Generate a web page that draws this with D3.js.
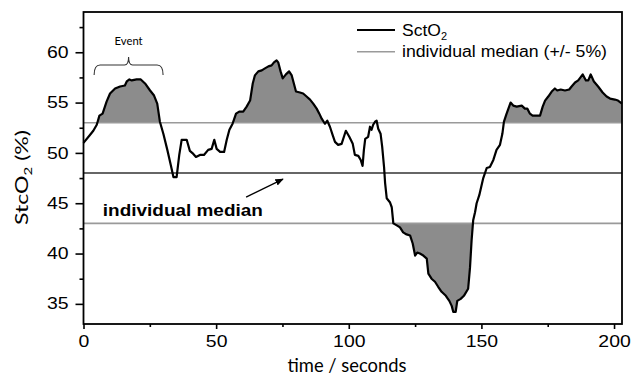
<!DOCTYPE html>
<html lang="en">
<head>
  <meta charset="UTF-8">
  <title>StcO2 over time</title>
  <script src="https://cdnjs.cloudflare.com/ajax/libs/d3/7.8.5/d3.min.js"></script>
  <style>
    html, body { margin: 0; padding: 0; background: #fff; }
    #chart { width: 641px; height: 375px; }
    .tick-label { font-family: "Liberation Sans", Arial, sans-serif; font-size: 16px; fill: #000; }
    .title-label { font-family: Lato, "Open Sans", sans-serif; fill: #000; }
  </style>
</head>
<body>
  <div id="chart"></div>
  <script>
    // time (s) and StcO2 (%)
    const timeSec = [0, 2.5, 3.7, 5, 6, 7.2, 8.7, 10, 11.9, 13.8, 15.6, 16.3, 17.3, 18.2, 20, 21.6, 23.2, 25.1, 26.6, 27.8,
      28.8, 30.1, 31.6, 32.9, 33.9, 35.1, 36.1, 37, 38.9, 40.1, 41.4, 42.4, 43.9, 45.4, 47, 48.3, 49.3, 50.2, 51.5, 53,
      54, 55, 56.2, 57.5, 58.7, 60.2, 61.5, 62.8, 63.8, 64.6, 65.9, 67.2, 68.4, 69.7, 70.9, 71.8, 72.8, 73.4, 74.3, 75.1,
      76.3, 77.5, 78.5, 79.3, 80.1, 81.6, 82.8, 84.1, 85.4, 86.6, 87.9, 88.9, 89.8, 91, 91.9, 92.9, 93.9, 94.8, 96, 97.3,
      98.9, 100.2, 101.5, 102.3, 103.6, 104.5, 105.2, 105.7, 106.2, 107.3, 108, 108.6, 109.2, 109.9, 110.5, 111.1, 112, 112.6, 113.3, 113.7,
      114.3, 115.5, 116.2, 116.8, 118.1, 119.3, 120.5, 121.8, 123.1, 124.1, 125, 125.8, 126.8, 128.1, 129.4, 130, 131.2, 132.5, 133.7, 135,
      136.6, 137.9, 138.8, 139.4, 140.3, 140.9, 142.2, 143.4, 145, 145.7, 146.3, 146.9, 147.6, 148.2, 149.2, 150.7, 152, 153.2, 154.5, 155.7,
      157, 157.9, 158.5, 159.5, 161, 162, 163.3, 165.2, 166.4, 167.3, 168.3, 169.3, 172.1, 173.1, 174, 175.2, 176.5, 177.7, 178.6, 179.9,
      181.5, 183.1, 184, 185.3, 186.5, 188.2, 189.4, 190.3, 191.2, 192.4, 194, 195.7, 197.2, 198.5, 200.3, 201.5, 203];
    const stco2 = [51.0, 51.8, 52.2, 52.8, 53.7, 53.9, 55.1, 55.9, 56.4, 56.6, 56.7, 57.1, 57.3, 57.2, 57.3, 57.3, 56.9, 56.2, 55.7, 54.9,
      53.1, 51.9, 50.3, 48.8, 47.6, 47.6, 49.8, 51.3, 51.3, 50.2, 49.9, 49.6, 49.8, 49.8, 50.3, 50.4, 51.3, 50.4, 50.1, 50.1,
      51.3, 52.3, 52.9, 53.9, 54.1, 54.1, 54.6, 55.2, 56.9, 57.7, 58.1, 58.2, 58.4, 58.6, 58.7, 59.0, 59.2, 59.0, 58.1, 57.4,
      57.8, 58.1, 57.7, 56.9, 56.1, 56.0, 55.9, 55.6, 55.3, 54.9, 54.4, 53.9, 53.4, 52.9, 53.2, 52.6, 51.8, 51.1, 50.8, 50.9,
      52.2, 51.6, 50.9, 49.8, 49.7, 49.3, 48.7, 50.3, 51.4, 51.6, 52.6, 52.3, 52.8, 53.1, 53.2, 52.4, 51.9, 50.6, 48.6, 47.0,
      45.5, 45.1, 44.6, 43.0, 42.8, 42.6, 42.1, 41.9, 41.8, 41.0, 39.8, 40.1, 40.0, 39.8, 39.5, 38.0, 37.5, 37.2, 36.7, 36.2,
      35.8, 35.3, 34.8, 34.2, 34.2, 35.3, 35.5, 35.8, 36.5, 38.6, 41.3, 43.3, 44.1, 45.0, 45.8, 47.5, 48.5, 48.6, 49.3, 50.3,
      50.8, 51.9, 53.1, 53.9, 55.0, 54.7, 54.6, 54.7, 54.4, 54.4, 53.9, 53.7, 53.7, 54.6, 55.2, 55.6, 56.1, 56.4, 56.2, 56.3,
      56.2, 56.3, 56.6, 57.0, 57.2, 57.8, 57.2, 57.2, 57.8, 57.1, 56.6, 56.0, 55.6, 55.4, 55.3, 55.2, 54.9];

    const medianValue = 48;
    const upperBand = 53;
    const lowerBand = 43;

    const xMajorTicks = [0, 50, 100, 150, 200];
    const xMinorTicks = [25, 75, 125, 175];
    const yMajorTicks = [35, 40, 45, 50, 55, 60];
    const yMinorTicks = [37.5, 42.5, 47.5, 52.5, 57.5, 62.5];

    const eventRange = [4, 30];

    const data = timeSec.map((t, i) => ({ t, v: stco2[i] }));

    const W = 641, H = 375;
    const plot = { left: 83.5, top: 12, right: 622, bottom: 324 };

    const svg = d3.select("#chart").append("svg")
      .attr("width", W).attr("height", H);

    const x = d3.scaleLinear().domain([0, 203]).range([plot.left, plot.right]);
    const y = d3.scaleLinear().domain([33, 64]).range([plot.bottom, plot.top]);

    const defs = svg.append("defs");
    defs.append("clipPath").attr("id", "clip-above")
      .append("rect")
      .attr("x", plot.left).attr("y", plot.top)
      .attr("width", plot.right - plot.left).attr("height", y(upperBand) - plot.top);
    defs.append("clipPath").attr("id", "clip-below")
      .append("rect")
      .attr("x", plot.left).attr("y", y(lowerBand))
      .attr("width", plot.right - plot.left).attr("height", plot.bottom - y(lowerBand));
    defs.append("marker").attr("id", "arrowhead")
      .attr("viewBox", "0 0 10 10").attr("refX", 9).attr("refY", 5)
      .attr("markerWidth", 6).attr("markerHeight", 6).attr("orient", "auto")
      .append("path").attr("d", "M0,1 L10,5 L0,9 Z").attr("fill", "#000");

    // shaded areas outside the +/- 5% band
    const areaAbove = d3.area().x(d => x(d.t)).y0(y(upperBand)).y1(d => y(d.v));
    const areaBelow = d3.area().x(d => x(d.t)).y0(y(lowerBand)).y1(d => y(d.v));
    svg.append("path").datum(data).attr("d", areaAbove)
      .attr("fill", "#8c8c8c").attr("clip-path", "url(#clip-above)");
    svg.append("path").datum(data).attr("d", areaBelow)
      .attr("fill", "#8c8c8c").attr("clip-path", "url(#clip-below)");

    // reference lines
    [[upperBand, "#9a9a9a"], [lowerBand, "#9a9a9a"], [medianValue, "#333"]].forEach(([v, c]) => {
      svg.append("line")
        .attr("x1", plot.left).attr("x2", plot.right)
        .attr("y1", y(v)).attr("y2", y(v))
        .attr("stroke", c).attr("stroke-width", 1.6);
    });

    // trace
    svg.append("path").datum(data)
      .attr("d", d3.line().x(d => x(d.t)).y(d => y(d.v)))
      .attr("fill", "none").attr("stroke", "#000").attr("stroke-width", 2.2)
      .attr("stroke-linejoin", "round");

    // axes
    function styleAxis(g) {
      g.select(".domain").remove();
      g.selectAll(".tick line").attr("stroke", "#000").attr("stroke-width", 1.6);
    }
    const yAxis = svg.append("g").attr("transform", `translate(${plot.left},0)`)
      .call(d3.axisLeft(y).tickValues(yMajorTicks).tickSize(8).tickPadding(7));
    yAxis.call(styleAxis);
    svg.append("g").attr("transform", `translate(${plot.left},0)`)
      .call(d3.axisLeft(y).tickValues(yMinorTicks).tickSize(4).tickFormat(""))
      .call(styleAxis);
    const xAxis = svg.append("g").attr("transform", `translate(0,${plot.bottom})`)
      .call(d3.axisBottom(x).tickValues(xMajorTicks).tickSize(5).tickPadding(7));
    xAxis.call(styleAxis);
    svg.append("g").attr("transform", `translate(0,${plot.bottom})`)
      .call(d3.axisBottom(x).tickValues(xMinorTicks).tickSize(3).tickFormat(""))
      .call(styleAxis);

    [yAxis, xAxis].forEach(g => {
      g.selectAll(".tick text")
        .attr("class", "tick-label")
        .attr("font-family", null).attr("font-size", null)
        .attr("textLength", function () { return this.textContent.length * 10.8; })
        .attr("lengthAdjust", "spacingAndGlyphs");
    });

    // frame
    svg.append("rect")
      .attr("x", plot.left).attr("y", plot.top)
      .attr("width", plot.right - plot.left).attr("height", plot.bottom - plot.top)
      .attr("fill", "none").attr("stroke", "#000").attr("stroke-width", 1.8);

    // axis titles
    svg.append("text").attr("class", "title-label")
      .attr("x", 347).attr("y", 372).attr("text-anchor", "middle")
      .attr("font-size", 19).attr("textLength", 119).attr("lengthAdjust", "spacingAndGlyphs")
      .text("time / seconds");

    const yTitle = svg.append("text").attr("class", "title-label")
      .attr("transform", "translate(28,177.5) rotate(-90)")
      .attr("text-anchor", "middle").attr("font-size", 17)
      .attr("textLength", 95).attr("lengthAdjust", "spacingAndGlyphs");
    yTitle.append("tspan").text("StcO");
    yTitle.append("tspan").attr("font-size", 11).attr("dy", 4).text("2");
    yTitle.append("tspan").attr("dy", -4).text(" (%)");

    // legend
    const legend = svg.append("g");
    legend.append("line").attr("x1", 357).attr("x2", 395).attr("y1", 30).attr("y2", 30)
      .attr("stroke", "#000").attr("stroke-width", 2.2);
    const lt1 = legend.append("text").attr("class", "tick-label")
      .attr("x", 402).attr("y", 36)
      .attr("textLength", 45).attr("lengthAdjust", "spacingAndGlyphs");
    lt1.append("tspan").text("SctO");
    lt1.append("tspan").attr("font-size", 10).attr("dy", 4).text("2");
    legend.append("line").attr("x1", 357).attr("x2", 395).attr("y1", 51.7).attr("y2", 51.7)
      .attr("stroke", "#9a9a9a").attr("stroke-width", 1.6);
    legend.append("text").attr("class", "tick-label")
      .attr("x", 402).attr("y", 57)
      .attr("textLength", 205).attr("lengthAdjust", "spacingAndGlyphs")
      .text("individual median (+/- 5%)");

    // median annotation
    svg.append("text").attr("class", "tick-label")
      .attr("x", x(7.3)).attr("y", 215.5)
      .attr("font-weight", "bold").attr("font-size", 15)
      .attr("textLength", 160).attr("lengthAdjust", "spacingAndGlyphs")
      .text("individual median");
    svg.append("line")
      .attr("x1", x(61.3)).attr("y1", y(45.6))
      .attr("x2", x(75.2)).attr("y2", y(47.4))
      .attr("stroke", "#000").attr("stroke-width", 1.4)
      .attr("marker-end", "url(#arrowhead)");

    // event brace
    const bx0 = x(eventRange[0]), bx1 = x(eventRange[1]), bmid = (bx0 + bx1) / 2;
    const bTop = 65, bEnd = 75, bTip = 57;
    svg.append("path")
      .attr("d", `M${bx0},${bEnd} Q${bx0},${bTop} ${bx0 + 6},${bTop} L${bmid - 4},${bTop} Q${bmid},${bTop} ${bmid},${bTip}` +
        ` Q${bmid},${bTop} ${bmid + 4},${bTop} L${bx1 - 6},${bTop} Q${bx1},${bTop} ${bx1},${bEnd}`)
      .attr("fill", "none").attr("stroke", "#333").attr("stroke-width", 1.1);
    svg.append("text").attr("class", "title-label")
      .attr("x", bmid).attr("y", 45).attr("text-anchor", "middle")
      .attr("font-size", 12).attr("textLength", 28).attr("lengthAdjust", "spacingAndGlyphs")
      .text("Event");
  </script>
</body>
</html>
